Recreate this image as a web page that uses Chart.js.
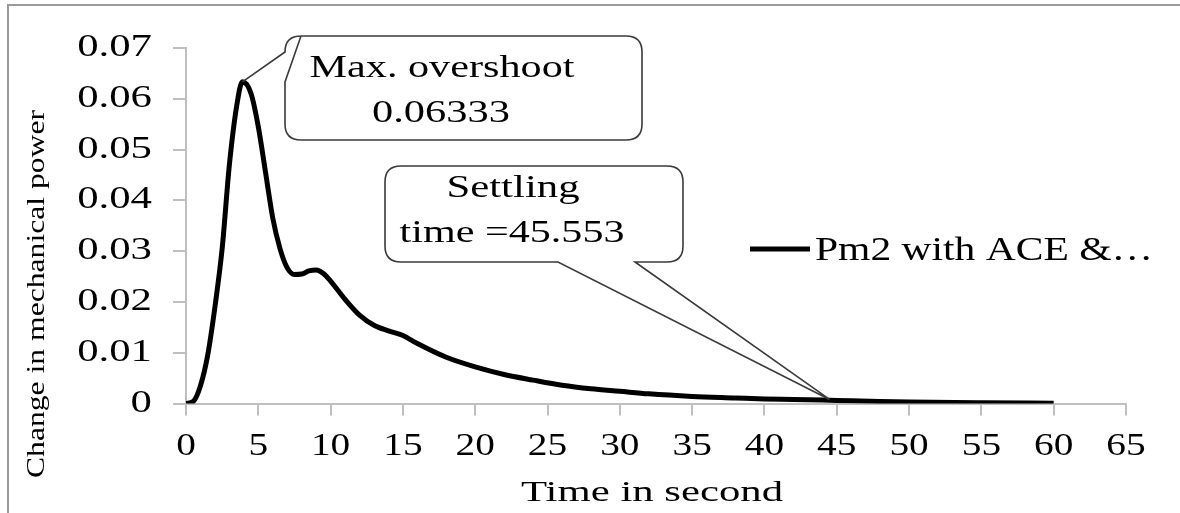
<!DOCTYPE html>
<html>
<head>
<meta charset="utf-8">
<script src="https://cdn.jsdelivr.net/npm/chart.js@4"></script>
<style>
  html, body { margin: 0; padding: 0; background: #fff; }
  .wrap { width: 1180px; height: 513px; position: relative; }
</style>
</head>
<body>
<div class="wrap"><canvas class="js-pm2"></canvas></div>
<script>
// values
const TIME = [0, 0.5, 1, 1.5, 2, 2.5, 3, 3.5, 3.9, 4.5, 5, 5.5, 6, 6.5, 7, 7.5, 8, 8.5, 9, 9.5,
  10, 11, 12, 13, 14, 15, 16, 18, 20, 22, 24, 26, 28, 30, 32, 35, 38, 40, 42, 45, 48, 50, 55, 60];
const PM2 = [0, 0.0004, 0.0035, 0.0095, 0.019, 0.0305, 0.047, 0.0585, 0.06333, 0.061, 0.0545, 0.0455,
  0.0365, 0.0305, 0.0267, 0.0254, 0.0255, 0.0261, 0.0263, 0.0256, 0.0241, 0.0205, 0.0174, 0.0154,
  0.0143, 0.0134, 0.0118, 0.0091, 0.0072, 0.0057, 0.0046, 0.0036, 0.0029, 0.0024, 0.0019, 0.0014,
  0.0011, 0.0009, 0.0008, 0.0006, 0.0004, 0.0003, 0.00015, 0.00005];
const X_TICKS = [0, 5, 10, 15, 20, 25, 30, 35, 40, 45, 50, 55, 60, 65];
const Y_TICKS = ["0", "0.01", "0.02", "0.03", "0.04", "0.05", "0.06", "0.07"];
const SERIES_LABEL = "Pm2 with ACE &…";
const SETTLE_AT = { x: 44.5, y: 0.0008 };

const FONT = '"Liberation Serif", "Times New Roman", serif';
const AXIS_GREY = "#bfbfbf";
const BOX_LINE = "#3a3a3a";

// text in the picture is drawn wider than normal, so stretch it sideways
const stretchText = function (ctx, str, x, y, size, sx, align, baseline) {
  ctx.save();
  ctx.font = size + "px " + FONT;
  ctx.translate(x, y);
  ctx.scale(sx, 1);
  ctx.textAlign = align;
  ctx.textBaseline = baseline || "alphabetic";
  ctx.fillStyle = "#000";
  ctx.fillText(str, 0, 0);
  ctx.restore();
};

const fitText = function (ctx, str, x, y, size, width, align) {
  ctx.save();
  ctx.font = size + "px " + FONT;
  const sx = width / ctx.measureText(str).width;
  ctx.restore();
  stretchText(ctx, str, x, y, size, sx, align);
};

const roundBox = function (ctx, l, t, r, b, rad) {
  ctx.moveTo(l + rad, t);
  ctx.lineTo(r - rad, t);
  ctx.quadraticCurveTo(r, t, r, t + rad);
  ctx.lineTo(r, b - rad);
  ctx.quadraticCurveTo(r, b, r - rad, b);
};

const decor = {
  id: "decor",
  afterDraw(chart) {
    const ctx = chart.ctx;
    const xs = chart.scales.x;
    const ys = chart.scales.y;

    // frame round the picture
    ctx.save();
    ctx.strokeStyle = "#9a9a9a";
    ctx.lineWidth = 2;
    ctx.strokeRect(8, 5, 1200, 600);
    ctx.restore();

    // tick labels
    xs.ticks.forEach((t, i) => {
      stretchText(ctx, String(X_TICKS[i] ?? t.value), xs.getPixelForValue(t.value), 447, 31, 1.27, "center", "middle");
    });
    ys.ticks.forEach((t, i) => {
      stretchText(ctx, Y_TICKS[i] ?? String(t.value), 152, ys.getPixelForValue(t.value), 31, 1.38, "right", "middle");
    });

    // axis titles
    fitText(ctx, "Time in second", 652, 501, 29, 262, "center");
    ctx.save();
    ctx.translate(44, 294);
    ctx.rotate(-Math.PI / 2);
    fitText(ctx, "Change in mechanical power", 0, 0, 25, 368, "center");
    ctx.restore();

    // legend
    ctx.save();
    ctx.strokeStyle = "#000";
    ctx.lineWidth = 5;
    ctx.beginPath();
    ctx.moveTo(750, 249);
    ctx.lineTo(810, 249);
    ctx.stroke();
    ctx.restore();
    fitText(ctx, chart.data.datasets[0].label, 815, 260, 34, 338, "left");

    // callout for the peak
    let peak = 0;
    PM2.forEach((v, i) => { if (v > PM2[peak]) peak = i; });
    const px = xs.getPixelForValue(TIME[peak]);
    const py = ys.getPixelForValue(PM2[peak]);
    const b1 = { l: 285, t: 36, r: 642, b: 140, rad: 16 };
    ctx.save();
    ctx.fillStyle = "#fff";
    ctx.strokeStyle = BOX_LINE;
    ctx.lineWidth = 1.6;
    ctx.beginPath();
    ctx.moveTo(px, py);
    ctx.lineTo(b1.l, b1.t + b1.rad);
    ctx.quadraticCurveTo(b1.l, b1.t, b1.l + b1.rad, b1.t);
    roundBox(ctx, b1.l, b1.t, b1.r, b1.b, b1.rad);
    ctx.lineTo(b1.l + b1.rad, b1.b);
    ctx.quadraticCurveTo(b1.l, b1.b, b1.l, b1.b - b1.rad);
    ctx.lineTo(b1.l, py);
    ctx.closePath();
    ctx.fill();
    ctx.stroke();
    ctx.restore();
    fitText(ctx, "Max. overshoot", 442, 77, 32, 265, "center");
    fitText(ctx, "0.06333", 441, 122, 32, 138, "center");

    // callout for the settling time
    const sxp = xs.getPixelForValue(SETTLE_AT.x);
    const syp = ys.getPixelForValue(SETTLE_AT.y);
    const b2 = { l: 385, t: 166, r: 683, b: 262, rad: 16 };
    ctx.save();
    ctx.fillStyle = "#fff";
    ctx.strokeStyle = BOX_LINE;
    ctx.lineWidth = 1.6;
    ctx.beginPath();
    roundBox(ctx, b2.l, b2.t, b2.r, b2.b, b2.rad);
    ctx.lineTo(635, b2.b);
    ctx.lineTo(sxp, syp);
    ctx.lineTo(558, b2.b);
    ctx.lineTo(b2.l + b2.rad, b2.b);
    ctx.quadraticCurveTo(b2.l, b2.b, b2.l, b2.b - b2.rad);
    ctx.lineTo(b2.l, b2.t + b2.rad);
    ctx.quadraticCurveTo(b2.l, b2.t, b2.l + b2.rad, b2.t);
    ctx.closePath();
    ctx.fill();
    ctx.stroke();
    ctx.restore();
    fitText(ctx, "Settling", 513, 197, 32, 133, "center");
    fitText(ctx, "time =45.553", 512, 242, 32, 225, "center");
  },
};

const chartPm2 = function () {
  const el = document.querySelector(".js-pm2");

  new Chart(el, {
    type: "line",
    data: {
      datasets: [
        {
          label: SERIES_LABEL,
          data: TIME.map((t, i) => ({ x: t, y: PM2[i] })),
          borderColor: "#000",
          borderWidth: 5,
          pointRadius: 0,
          cubicInterpolationMode: "monotone",
          fill: false,
        },
      ],
    },
    options: {
      responsive: true,
      maintainAspectRatio: false,
      animation: false,
      layout: { padding: { left: 0, top: 48, right: 54, bottom: 0 } },
      scales: {
        x: {
          type: "linear",
          min: 0,
          max: 65,
          ticks: { stepSize: 5, display: false },
          grid: { drawOnChartArea: false, drawTicks: true, tickLength: 12, color: AXIS_GREY, lineWidth: 2 },
          border: { color: AXIS_GREY, width: 2 },
          afterFit: (s) => { s.height = 109.5; },
        },
        y: {
          min: 0,
          max: 0.07,
          ticks: { stepSize: 0.01, display: false },
          grid: { drawOnChartArea: false, drawTicks: true, tickLength: 13, color: AXIS_GREY, lineWidth: 2 },
          border: { color: AXIS_GREY, width: 2 },
          afterFit: (s) => { s.width = 186; },
        },
      },
      plugins: {
        legend: { display: false },
        tooltip: { enabled: false },
      },
    },
    plugins: [decor],
  });
};

document.addEventListener("DOMContentLoaded", chartPm2);
</script>
</body>
</html>
